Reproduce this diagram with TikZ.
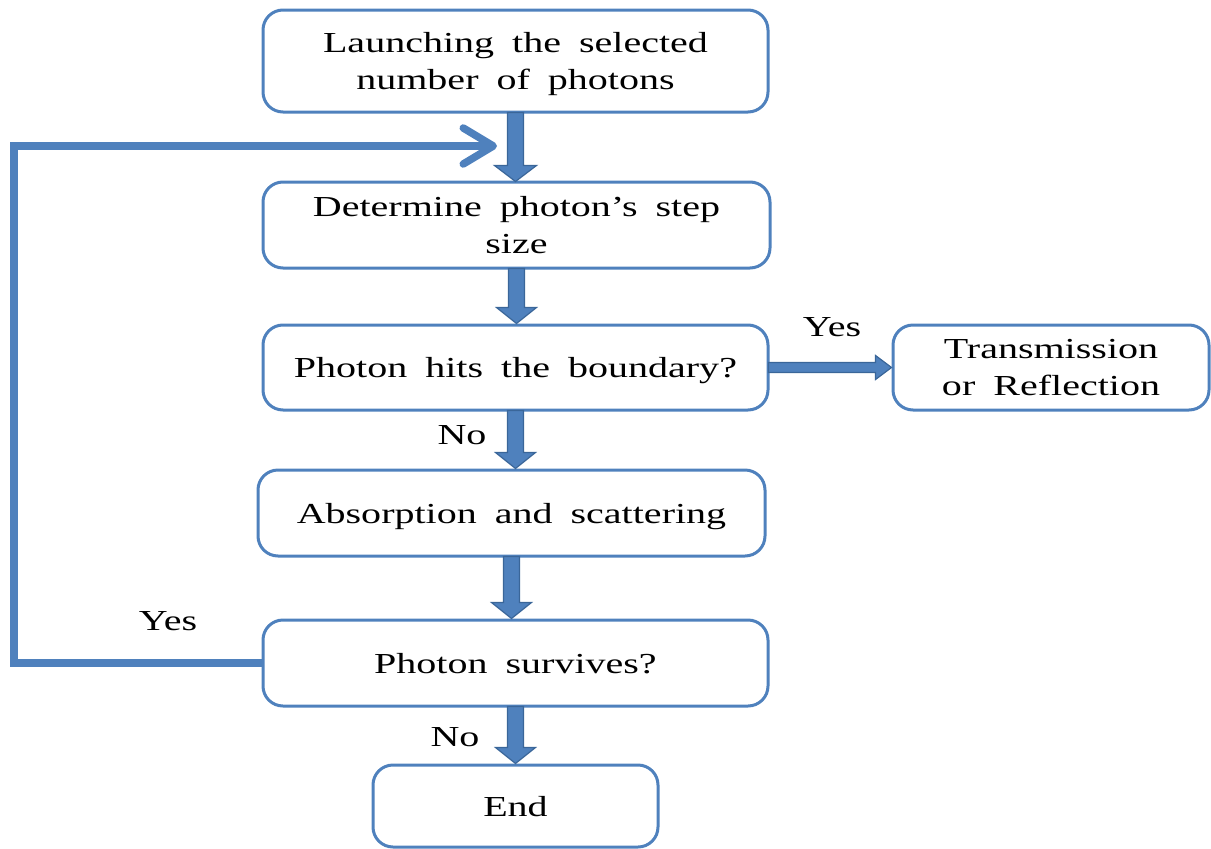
\documentclass[tikz,border=0pt]{standalone}
\usepackage{fontspec}
\setmainfont{Liberation Serif}[FakeStretch=1.38,WordSpace=1.8]
\usetikzlibrary{calc,arrows.meta}
\definecolor{boxblue}{HTML}{4F81BD}
\definecolor{arrowedge}{HTML}{3A6699}
\tikzset{
  stepbox/.style={draw=boxblue, line width=3pt, rounded corners=20pt, align=center,
    inner sep=0pt, text depth=-6pt, font=\fontsize{29}{37}\selectfont},
  lbl/.style={font=\fontsize{29}{37}\selectfont, inner sep=0pt},
  blockarrow/.style={fill=boxblue, draw=arrowedge, line width=1.2pt, line join=miter},
  loopline/.style={draw=boxblue, line width=7.5pt, line join=miter}
}
% vertical block arrow from the bottom of #1 to the top of #2
\newcommand{\flowdown}[2]{%
  \path[blockarrow] let \p1=(#1.south), \p2=(#2.north) in
    (\x1-8pt,\y1+1pt) -- (\x1+8pt,\y1+1pt) -- (\x1+8pt,\y2+16pt) -- (\x1+20pt,\y2+16pt)
    -- (\x1,\y2) -- (\x1-20pt,\y2+16pt) -- (\x1-8pt,\y2+16pt) -- cycle;}
\begin{document}
\begin{tikzpicture}[x=1pt,y=-1pt]
\useasboundingbox (0,0) rectangle (1211,849);

\node[stepbox, minimum width=505pt, minimum height=102pt] (launch) at (515.5,61)
  {Launching the selected\\number of photons};
\node[stepbox, minimum width=507pt, minimum height=86pt] (stepsize) at (516.5,225)
  {Determine photon’s step\\size};
\node[stepbox, minimum width=505pt, minimum height=85pt] (hits) at (515.5,367.5)
  {Photon hits the boundary?};
\node[stepbox, minimum width=316pt, minimum height=85pt] (trans) at (1051,367.5)
  {Transmission\\or Reflection};
\node[stepbox, minimum width=507pt, minimum height=86pt] (absorb) at (511.5,513)
  {Absorption and scattering};
\node[stepbox, minimum width=505pt, minimum height=86pt] (survive) at (515.5,663)
  {Photon survives?};
\node[stepbox, minimum width=285pt, minimum height=82pt] (endbox) at (515.5,806)
  {End};

% labels on the branches
\node[lbl] (yeshits) at (832,327) {Yes};
\node[lbl] (nohits) at (462,435) {No};
\node[lbl] (yessurv) at (168,621) {Yes};
\node[lbl] (nosurv) at (455,737) {No};

% block arrows between the steps
\path[blockarrow] let \p1=(launch.south) in
  (\x1-8pt,\y1+1pt) -- (\x1+8pt,\y1+1pt) -- (\x1+8pt,\y1-52pt) -- (\x1+21pt,\y1-52pt)
  -- (\x1,\y1-68pt) -- (\x1-21pt,\y1-52pt) -- (\x1-8pt,\y1-52pt) -- cycle;
\flowdown{stepsize}{hits}
\flowdown{hits}{absorb}
\flowdown{absorb}{survive}
\flowdown{survive}{endbox}

% horizontal arrow to the boundary outcome
\path[blockarrow] let \p1=(hits.east), \p2=(trans.west) in
  (\x1-1pt,\y1+5pt) -- (\x2-16pt,\y1+5pt) -- (\x2-16pt,\y1+12pt) -- (\x2,\y1)
  -- (\x2-16pt,\y1-12pt) -- (\x2-16pt,\y1-5pt) -- (\x1-1pt,\y1-5pt) -- cycle;

% loop back for surviving photons
\coordinate (looptip) at (497,146);
\draw[loopline, -{Straight Barb[length=30pt,width=36pt,round]}]
  (survive.west) -| (14,146) -- (looptip);
\end{tikzpicture}
\end{document}
